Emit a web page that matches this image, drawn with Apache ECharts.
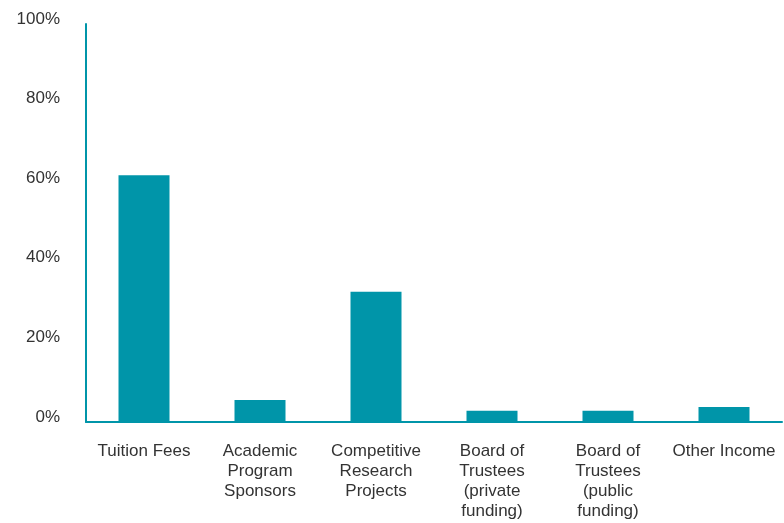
<!DOCTYPE html>
<html>
<head>
<meta charset="utf-8">
<script src="https://cdn.jsdelivr.net/npm/echarts@6/dist/echarts.min.js"></script>
<style>
  html, body { margin: 0; padding: 0; background: #fff; }
  #chart { width: 784px; height: 523px; }
</style>
</head>
<body>
<div id="chart"></div>
<script>
// categories and values (percent)
var categories = [
  'Tuition Fees',
  'Academic\nProgram\nSponsors',
  'Competitive\nResearch\nProjects',
  'Board of\nTrustees\n(private\nfunding)',
  'Board of\nTrustees\n(public\nfunding)',
  'Other Income'
];
var shares = [62, 5.5, 32.7, 2.8, 2.8, 3.8];
var yTicks = [0, 20, 40, 60, 80, 100];

var teal = '#0095a9';
var myChart = echarts.init(document.getElementById('chart'));
myChart.setOption({
  animation: false,
  textStyle: { fontFamily: 'Liberation Sans, Arial, sans-serif' },
  grid: { left: 86, right: 2, top: 24, bottom: 101 },
  xAxis: {
    type: 'category',
    data: categories,
    axisLine: { lineStyle: { color: teal, width: 2 } },
    axisTick: { show: false },
    axisLabel: {
      color: '#333',
      fontSize: 17,
      lineHeight: 20,
      margin: 19,
      interval: 0
    }
  },
  yAxis: {
    type: 'value',
    min: yTicks[0],
    max: yTicks[yTicks.length - 1],
    interval: 20,
    axisLine: { show: true, lineStyle: { color: teal, width: 2 } },
    axisTick: { show: false },
    splitLine: { show: false },
    axisLabel: {
      color: '#333',
      fontSize: 17,
      margin: 26,
      verticalAlign: 'bottom',
      lineHeight: 10,
      formatter: function (v) { return v + '%'; }
    }
  },
  series: [
    {
      type: 'bar',
      data: shares,
      barWidth: 51,
      itemStyle: { color: teal }
    }
  ]
});
</script>
</body>
</html>
